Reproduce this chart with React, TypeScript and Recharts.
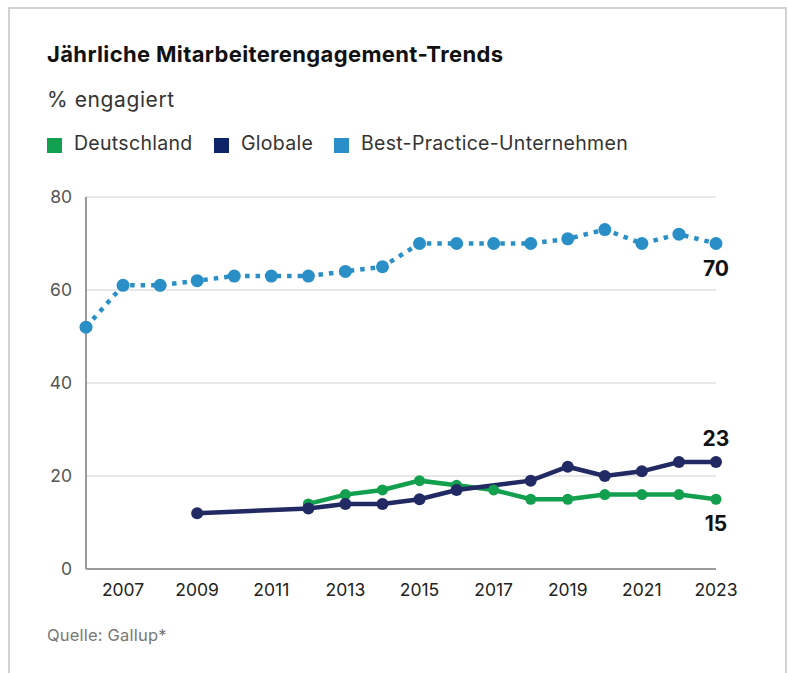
import { LineChart, Line, XAxis, YAxis, CartesianGrid, LabelList } from 'recharts';

const years = [
  2006, 2007, 2008, 2009, 2010, 2011, 2012, 2013, 2014, 2015, 2016, 2017, 2018, 2019, 2020, 2021, 2022, 2023,
];
const bestPractice = [52, 61, 61, 62, 63, 63, 63, 64, 65, 70, 70, 70, 70, 71, 73, 70, 72, 70];
const globale = [null, null, null, 12, null, null, 13, 14, 14, 15, 17, null, 19, 22, 20, 21, 23, 23];
const deutschland = [null, null, null, null, null, null, 14, 16, 17, 19, 18, 17, 15, 15, 16, 16, 16, 15];
const xTicks = [2007, 2009, 2011, 2013, 2015, 2017, 2019, 2021, 2023];
const yTicks = [0, 20, 40, 60, 80];

const GREEN = '#12a04f';
const NAVY = '#222a64';
const BLUE = '#2a8fc7';
const FONT = 'Inter, "Noto Sans", sans-serif';

const rows = years.map((year, i) => ({
  year,
  de: deutschland[i],
  gl: globale[i],
  bp: bestPractice[i],
}));

const legendItems = [
  { label: 'Deutschland', color: '#10a04f', left: 37 },
  { label: 'Globale', color: '#0d2467', left: 204 },
  { label: 'Best-Practice-Unternehmen', color: '#2a8fc8', left: 324 },
];

// only the last point of each series gets a value label
function endLabel(offset: number) {
  return (props: any) => {
    const { x, y, value, index } = props;
    if (index !== years.length - 1 || value == null) return null;
    return (
      <text
        x={x}
        y={y + offset}
        textAnchor="middle"
        dominantBaseline="central"
        fontFamily={FONT}
        fontWeight={700}
        fontSize={21}
        fill="#111"
      >
        {value}
      </text>
    );
  };
}

export default function App() {
  return (
    <div
      style={{
        position: 'absolute',
        left: 8,
        top: 7,
        width: 775,
        height: 664,
        borderTop: '2px solid #d2d2d2',
        borderLeft: '2px solid #d2d2d2',
        borderRight: '2px solid #d2d2d2',
        background: '#fff',
        fontFamily: FONT,
        color: '#111',
      }}
    >
      <div
        style={{
          position: 'absolute',
          left: 37,
          top: 34,
          fontSize: 22,
          lineHeight: '22px',
          fontWeight: 700,
          letterSpacing: 0.35,
          whiteSpace: 'nowrap',
        }}
      >
        Jährliche Mitarbeiterengagement-Trends
      </div>
      <div
        style={{
          position: 'absolute',
          left: 37,
          top: 80,
          fontSize: 21,
          lineHeight: '21px',
          letterSpacing: 0.6,
          color: '#333',
          whiteSpace: 'nowrap',
        }}
      >
        % engagiert
      </div>
      {legendItems.map((item) => (
        <div
          key={item.label}
          style={{
            position: 'absolute',
            left: item.left,
            top: 125,
            display: 'flex',
            alignItems: 'center',
            whiteSpace: 'nowrap',
          }}
        >
          <span
            style={{
              display: 'inline-block',
              width: 15,
              height: 15,
              background: item.color,
              marginRight: 12,
              marginTop: 3,
            }}
          />
          <span style={{ fontSize: 19.5, lineHeight: '19.5px', letterSpacing: 0.3, color: '#333' }}>
            {item.label}
          </span>
        </div>
      ))}

      <div style={{ position: 'absolute', left: 0, top: 170 }}>
        <LineChart width={775} height={440} data={rows} margin={{ top: 18, right: 69, bottom: 20, left: 16 }}>
          <CartesianGrid vertical={false} stroke="#e0e0e0" strokeWidth={1.5} />
          <XAxis
            dataKey="year"
            type="number"
            domain={[2006, 2023]}
            ticks={xTicks}
            height={30}
            tickLine={false}
            tickMargin={9}
            axisLine={{ stroke: '#9a9a9a', strokeWidth: 2 }}
            tick={{ fontSize: 17.5, fill: '#222', fontFamily: FONT }}
          />
          <YAxis
            domain={[0, 80]}
            ticks={yTicks}
            width={60}
            tickLine={false}
            tickMargin={8}
            axisLine={{ stroke: '#9a9a9a', strokeWidth: 2 }}
            tick={{ fontSize: 17.5, fill: '#555', fontFamily: FONT }}
          />
          <Line
            dataKey="bp"
            stroke={BLUE}
            strokeWidth={4.5}
            strokeDasharray="4.5 6"
            dot={{ r: 6.5, fill: BLUE, stroke: BLUE, strokeWidth: 0 }}
            activeDot={false}
            isAnimationActive={false}
          >
            <LabelList dataKey="bp" content={endLabel(25)} />
          </Line>
          <Line
            dataKey="de"
            stroke={GREEN}
            strokeWidth={4.5}
            connectNulls
            dot={{ r: 5.5, fill: GREEN, stroke: GREEN, strokeWidth: 0 }}
            activeDot={false}
            isAnimationActive={false}
          >
            <LabelList dataKey="de" content={endLabel(24)} />
          </Line>
          <Line
            dataKey="gl"
            stroke={NAVY}
            strokeWidth={4.5}
            connectNulls
            dot={{ r: 6, fill: NAVY, stroke: NAVY, strokeWidth: 0 }}
            activeDot={false}
            isAnimationActive={false}
          >
            <LabelList dataKey="gl" content={endLabel(-24)} />
          </Line>
        </LineChart>
      </div>

      <div
        style={{
          position: 'absolute',
          left: 37,
          top: 618,
          fontSize: 16.5,
          lineHeight: '16.5px',
          letterSpacing: 0.2,
          color: '#777',
          whiteSpace: 'nowrap',
        }}
      >
        Quelle: Gallup*
      </div>
    </div>
  );
}
